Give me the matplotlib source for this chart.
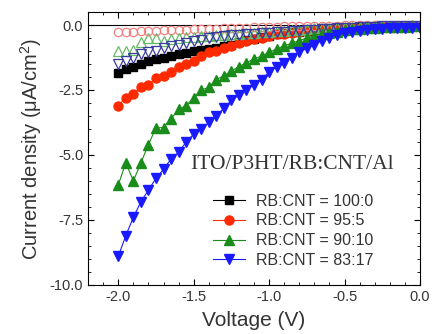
import numpy as np
import matplotlib
matplotlib.use("Agg")
import matplotlib.pyplot as plt
from matplotlib.ticker import MultipleLocator

plt.rcParams['font.family'] = ['Liberation Sans', 'DejaVu Sans']
plt.rcParams['mathtext.default'] = 'regular'

voltage = np.round(np.arange(-2.0, 0.001, 0.05), 2)

# illuminated (filled markers)
j_100_0 = [-1.85, -1.7, -1.6, -1.5, -1.4, -1.3, -1.25, -1.2, -1.12, -1.06, -1.0,
           -0.98, -0.92, -0.88, -0.82, -0.75, -0.67, -0.58, -0.53, -0.48, -0.41,
           -0.35, -0.32, -0.28, -0.25, -0.22, -0.19, -0.17, -0.15, -0.13, -0.12,
           -0.1, -0.09, -0.08, -0.07, -0.06, -0.05, -0.05, -0.04, -0.04, -0.04]
j_95_5 = [-3.1, -2.8, -2.65, -2.4, -2.3, -2.05, -1.95, -1.8, -1.6, -1.5, -1.4,
          -1.2, -1.05, -1.0, -0.88, -0.8, -0.7, -0.6, -0.55, -0.5, -0.42,
          -0.36, -0.33, -0.29, -0.26, -0.23, -0.2, -0.18, -0.16, -0.14, -0.12,
          -0.11, -0.1, -0.09, -0.08, -0.07, -0.06, -0.06, -0.05, -0.05, -0.05]
j_90_10 = [-6.15, -5.3, -6.0, -5.3, -4.6, -3.95, -3.95, -3.6, -3.25, -3.1, -2.8,
           -2.5, -2.4, -2.1, -1.95, -1.77, -1.6, -1.45, -1.3, -1.2, -1.05,
           -0.92, -0.8, -0.7, -0.6, -0.5, -0.42, -0.35, -0.3, -0.25, -0.2,
           -0.17, -0.14, -0.12, -0.1, -0.09, -0.08, -0.07, -0.06, -0.05, -0.05]
j_83_17 = [-8.9, -8.1, -7.4, -6.8, -6.35, -5.9, -5.55, -5.15, -4.9, -4.5, -4.2,
           -4.0, -3.75, -3.5, -3.2, -2.9, -2.7, -2.5, -2.3, -2.1, -1.8,
           -1.6, -1.45, -1.25, -1.05, -0.9, -0.75, -0.6, -0.5, -0.37, -0.3,
           -0.25, -0.22, -0.19, -0.17, -0.15, -0.13, -0.12, -0.11, -0.1, -0.1]

# dark curves (open markers)
d_95_5 = [-0.27, -0.26, -0.25, -0.24, -0.23, -0.22, -0.21, -0.2, -0.19, -0.18, -0.17,
          -0.16, -0.15, -0.14, -0.13, -0.12, -0.11, -0.1, -0.09, -0.08, -0.07,
          -0.06, -0.05, -0.04, -0.04, -0.03, -0.03, -0.02, -0.02, -0.02, -0.01,
          -0.01, -0.01, 0.0, 0.0, 0.0, 0.0, 0.0, 0.0, 0.0, 0.0]
d_90_10 = [-1.0, -1.0, -0.95, -0.65, -0.5, -0.5, -0.6, -0.55, -0.5, -0.48, -0.45,
           -0.43, -0.41, -0.39, -0.37, -0.35, -0.33, -0.31, -0.3, -0.28, -0.26,
           -0.24, -0.22, -0.2, -0.18, -0.15, -0.13, -0.11, -0.1, -0.09, -0.08,
           -0.07, -0.06, -0.05, -0.04, -0.03, -0.03, -0.02, -0.02, -0.01, -0.01]
d_83_17 = [-1.5, -1.38, -1.25, -1.12, -1.05, -1.0, -0.9, -0.8, -0.75, -0.68, -0.62,
           -0.58, -0.5, -0.48, -0.42, -0.4, -0.38, -0.36, -0.34, -0.32, -0.3,
           -0.28, -0.26, -0.24, -0.22, -0.2, -0.18, -0.17, -0.15, -0.13, -0.11,
           -0.1, -0.08, -0.07, -0.06, -0.05, -0.05, -0.04, -0.04, -0.03, -0.03]

labels = ["RB:CNT = 100:0", "RB:CNT = 95:5", "RB:CNT = 90:10", "RB:CNT = 83:17"]

fig = plt.figure(figsize=(4.32, 3.34), dpi=100)
ax = fig.add_axes([0.204, 0.147, 0.768, 0.817])

ax.axhline(0, color='black', lw=0.8, zorder=1)

ax.plot(voltage, j_100_0, 's-', color='black', ms=5.5, lw=0.8, label=labels[0])
ax.plot(voltage, j_95_5, 'o-', color='#ff2a00', ms=6.5, lw=0.8, label=labels[1])

# dark curves
ax.plot(voltage, d_95_5, 'o', mfc='none', mec='#f08080', ms=6, mew=0.9)
ax.plot(voltage, d_90_10, '^', mfc='none', mec='#66bb66', ms=6.5, mew=0.9)
ax.plot(voltage, d_83_17, 'v', mfc='none', mec='#3a3aa0', ms=6.5, mew=0.9)

ax.plot(voltage, j_90_10, '^-', color='#1a8c1a', ms=7, lw=0.8, label=labels[2])
ax.plot(voltage, j_83_17, 'v-', color='#1a1aff', ms=7, lw=0.8, label=labels[3])

ax.set_xlim(-2.2, 0.0)
ax.set_ylim(-10.0, 0.5)
ax.xaxis.set_major_locator(MultipleLocator(0.5))
ax.xaxis.set_minor_locator(MultipleLocator(0.1))
ax.yaxis.set_major_locator(MultipleLocator(2.5))
ax.yaxis.set_minor_locator(MultipleLocator(0.5))
ax.tick_params(which='both', direction='in', top=True, right=True,
               labelsize=10.5, labelcolor='#333333')
ax.tick_params(which='major', length=4)
ax.tick_params(which='minor', length=2)
ax.xaxis.set_major_formatter(plt.FormatStrFormatter('%.1f'))
ax.yaxis.set_major_formatter(plt.FormatStrFormatter('%.1f'))

ax.set_xlabel("Voltage (V)", fontsize=15, color='#333333', labelpad=5)
ax.set_ylabel("Current density (μA/cm$^2$)", fontsize=14.5, color='#333333', labelpad=4)

ax.text(0.307, 0.44, "ITO/P3HT/RB:CNT/Al", transform=ax.transAxes, va='center',
        family=['Liberation Serif', 'DejaVu Serif'], fontsize=15.5, color='#333333')

ax.legend(loc='center left', bbox_to_anchor=(0.377, 0.198), frameon=False,
          fontsize=11.5, handlelength=2.0, handletextpad=0.65, labelspacing=0.3,
          borderpad=0, borderaxespad=0, labelcolor='#333333')

fig.savefig("out.png", dpi=100)
